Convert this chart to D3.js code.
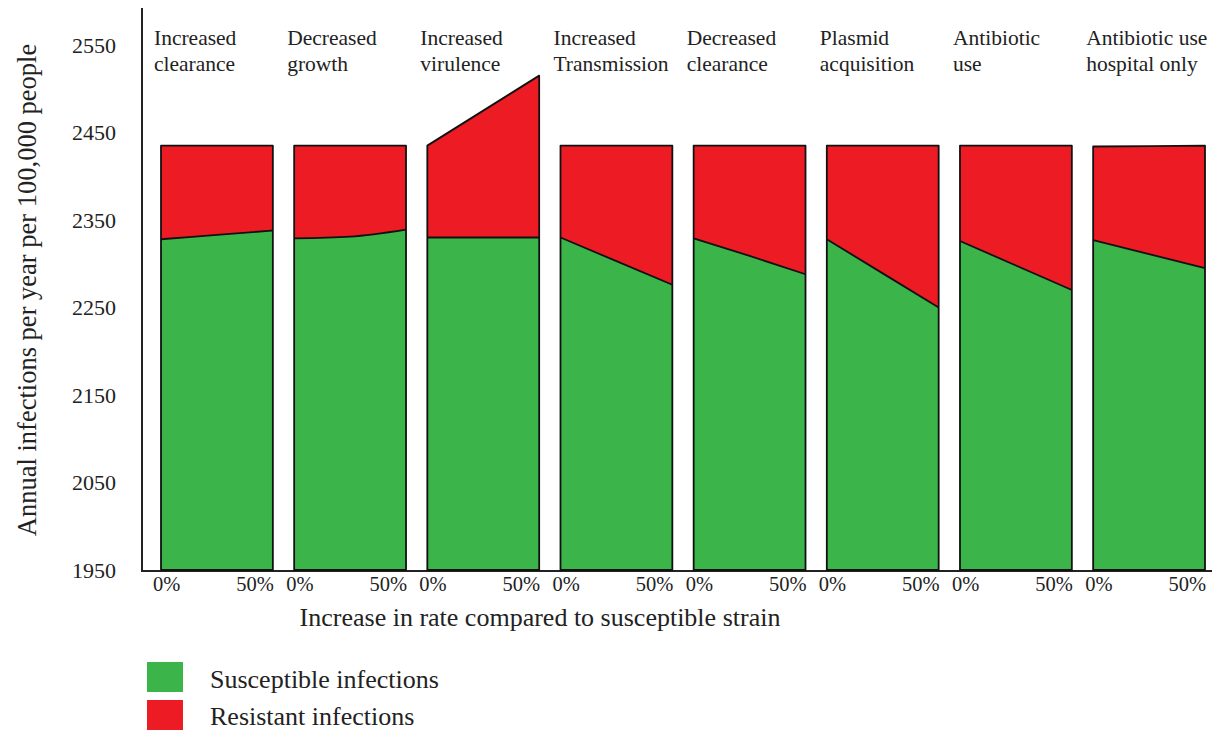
<!DOCTYPE html>
<html>
<head>
<meta charset="utf-8">
<script src="https://cdn.jsdelivr.net/npm/d3@7"></script>
<style>
  html, body { margin: 0; padding: 0; background: #fff; }
  svg { display: block; }
  text { font-family: "Liberation Serif", "Times New Roman", serif; fill: #222; }
</style>
</head>
<body>
<svg id="chart" width="1222" height="732"></svg>
<script>
// ---- data ----
const categories = [
  ["Increased", "clearance"],
  ["Decreased", "growth"],
  ["Increased", "virulence"],
  ["Increased", "Transmission"],
  ["Decreased", "clearance"],
  ["Plasmid", "acquisition"],
  ["Antibiotic", "use"],
  ["Antibiotic use", "hospital only"]
];
const rateLevels = [0, 25, 50];            // % increase in rate compared to susceptible strain
const rateTickLabels = ["0%", "50%"];
// susceptible infections (top of green area) at 0%, 25%, 50%
const susceptible = [
  [2328, 2333, 2338],
  [2329, 2331, 2339],
  [2330, 2330, 2330],
  [2330, 2303, 2276],
  [2329, 2309, 2288],
  [2328, 2289, 2250],
  [2326, 2298, 2270],
  [2327, 2311, 2295]
];
// total infections (top of red area) at 0%, 25%, 50%
const total = [
  [2435, 2435, 2435],
  [2435, 2435, 2435],
  [2435, 2475, 2515],
  [2435, 2435, 2435],
  [2435, 2435, 2435],
  [2435, 2435, 2435],
  [2435, 2435, 2435],
  [2434, 2434.5, 2435]
];
const yTicks = [1950, 2050, 2150, 2250, 2350, 2450, 2550];
const yMin = 1950, yMax = 2550;
const yTitle = "Annual infections per year per 100,000 people";
const xTitle = "Increase in rate compared to susceptible strain";
const legendItems = ["Susceptible infections", "Resistant infections"];

// ---- drawing ----
const GREEN = "#3bb54a", RED = "#ed1c24";
const FONT = '"Liberation Serif", "Times New Roman", serif';
const svg = d3.select("#chart");

const y = d3.scaleLinear().domain([yMin, yMax]).range([570, 45]);
const band = d3.scaleBand().domain(d3.range(categories.length)).range([161, 1205]).paddingInner(0.16);

// axes lines
svg.append("line").attr("x1", 142).attr("x2", 142).attr("y1", 8).attr("y2", 571.5)
  .attr("stroke", "#222").attr("stroke-width", 2);
svg.append("line").attr("x1", 141).attr("x2", 1212).attr("y1", 571).attr("y2", 571)
  .attr("stroke", "#222").attr("stroke-width", 2);

// y tick labels via axis
const yAxis = d3.axisLeft(y).tickValues(yTicks).tickSize(0).tickPadding(0).tickFormat(d3.format("d"));
const yg = svg.append("g").attr("transform", "translate(116,0)").call(yAxis);
yg.select(".domain").remove();
yg.selectAll("text").attr("font-size", 22).attr("fill", "#222").style("font-family", FONT);

categories.forEach((cat, i) => {
  const x0 = band(i);
  const x = d3.scaleLinear().domain([0, 50]).range([x0, x0 + band.bandwidth()]);
  const pts = rateLevels.map((r, k) => ({ r, s: susceptible[i][k], t: total[i][k] }));
  const curve = d3.curveMonotoneX;

  const green = d3.area().x(d => x(d.r)).y0(y(yMin)).y1(d => y(d.s)).curve(curve);
  const red = d3.area().x(d => x(d.r)).y0(d => y(d.s)).y1(d => y(d.t)).curve(curve);
  svg.append("path").attr("d", green(pts)).attr("fill", GREEN);
  svg.append("path").attr("d", red(pts)).attr("fill", RED);

  // boundary line between susceptible and resistant
  svg.append("path").attr("d", d3.line().x(d => x(d.r)).y(d => y(d.s)).curve(curve)(pts))
    .attr("fill", "none").attr("stroke", "#111").attr("stroke-width", 1.8);
  // outline
  const outline = d3.area().x(d => x(d.r)).y0(y(yMin)).y1(d => y(d.t)).curve(curve);
  svg.append("path").attr("d", outline(pts))
    .attr("fill", "none").attr("stroke", "#111").attr("stroke-width", 1.8).attr("stroke-linejoin", "round");

  // category title
  const t = svg.append("text").attr("x", x0 - 7).attr("y", 45).attr("font-size", 21.5);
  cat.forEach((line, j) => {
    t.append("tspan").attr("x", x0 - 7).attr("dy", j === 0 ? 0 : 26).text(line);
  });

  // rate tick labels
  svg.append("text").attr("x", x(0) - 8).attr("y", 591).attr("font-size", 20.5).text(rateTickLabels[0]);
  svg.append("text").attr("x", x(50) + 1).attr("y", 591).attr("font-size", 20.5)
    .attr("text-anchor", "end").text(rateTickLabels[1]);
});

// axis titles
svg.append("text").attr("transform", "translate(36,290) rotate(-90)")
  .attr("text-anchor", "middle").attr("font-size", 26.5).text(yTitle);
svg.append("text").attr("x", 540).attr("y", 626).attr("text-anchor", "middle")
  .attr("font-size", 26).text(xTitle);

// legend
const legendColors = [GREEN, RED];
legendItems.forEach((name, i) => {
  svg.append("rect").attr("x", 147).attr("y", 662 + i * 38).attr("width", 36).attr("height", 30)
    .attr("fill", legendColors[i]);
  svg.append("text").attr("x", 210).attr("y", 688 + i * 37).attr("font-size", 26).text(name);
});
</script>
</body>
</html>
